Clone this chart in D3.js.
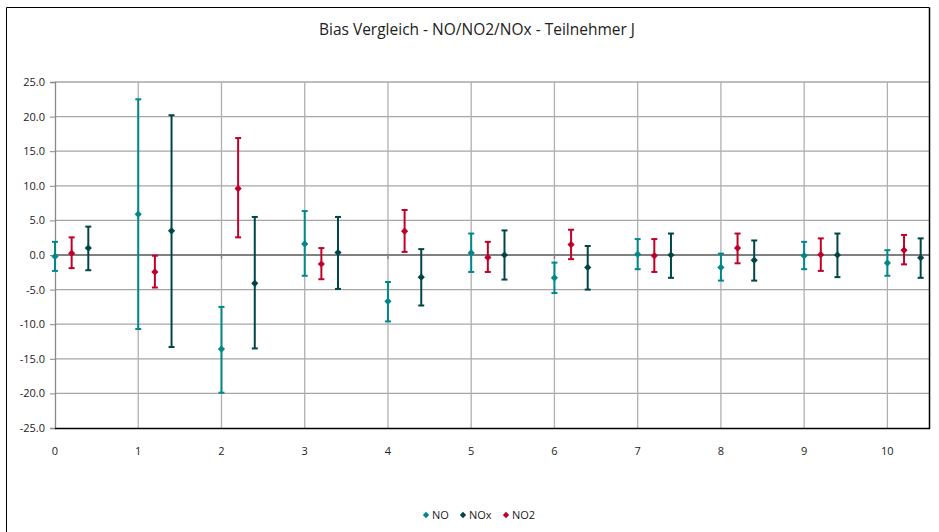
<!DOCTYPE html>
<html lang="de">
<head>
<meta charset="utf-8">
<script src="https://d3js.org/d3.v7.min.js"></script>
<style>
  body { margin: 0; background: #fff; }
  text { font-family: "Open Sans", "Liberation Sans", sans-serif; fill: #222; }
</style>
</head>
<body>
<div id="chart"></div>
<script>
// samples (x positions), each series is shifted a bit to the right
var samples = [0, 1, 2, 3, 4, 5, 6, 7, 8, 9, 10];
var yTicks = [-25, -20, -15, -10, -5, 0, 5, 10, 15, 20, 25];

// NO
var noBias = [-0.2, 5.9, -13.6, 1.6, -6.7, 0.3, -3.3, 0.1, -1.8, -0.1, -1.15];
var noHigh = [1.9, 22.5, -7.5, 6.35, -3.9, 3.1, -1.1, 2.3, 0.2, 1.9, 0.7];
var noLow  = [-2.3, -10.7, -19.9, -3.0, -9.6, -2.45, -5.5, -2.05, -3.7, -2.05, -3.0];
// NO2
var no2Bias = [0.25, -2.45, 9.6, -1.3, 3.45, -0.35, 1.5, -0.1, 1.0, 0.05, 0.7];
var no2High = [2.55, -0.1, 16.9, 1.0, 6.5, 1.9, 3.65, 2.3, 3.1, 2.4, 2.9];
var no2Low  = [-1.9, -4.7, 2.55, -3.5, 0.45, -2.45, -0.6, -2.45, -1.2, -2.3, -1.35];
// NOx
var noxBias = [1.0, 3.5, -4.1, 0.35, -3.2, 0.0, -1.8, 0.0, -0.75, 0.0, -0.4];
var noxHigh = [4.1, 20.2, 5.5, 5.5, 0.85, 3.55, 1.3, 3.1, 2.1, 3.1, 2.4];
var noxLow  = [-2.2, -13.3, -13.5, -4.9, -7.3, -3.55, -5.0, -3.3, -3.7, -3.2, -3.3];

var series = [
  {name: "NO",   color: "#00878a", offset: 0.0, bias: noBias,  hi: noHigh,  lo: noLow},
  {name: "NO2",  color: "#c0002a", offset: 0.2, bias: no2Bias, hi: no2High, lo: no2Low},
  {name: "NOx",  color: "#004646", offset: 0.4, bias: noxBias, hi: noxHigh, lo: noxLow}
];
var legendOrder = ["NO", "NOx", "NO2"];

var width = 939, height = 532;
var svg = d3.select("#chart").append("svg")
  .attr("width", width).attr("height", height);

var x = d3.scaleLinear().domain([0, 10.5]).range([55, 929]);
var y = d3.scaleLinear().domain([-25, 25]).range([428, 82]);

// outer chart border (cut off at the bottom)
svg.append("path")
  .attr("d", "M6.5,532 V7.5 H929.5")
  .attr("fill", "none").attr("stroke", "#000").attr("stroke-width", 1);

svg.append("text")
  .attr("x", 477).attr("y", 35)
  .attr("text-anchor", "middle")
  .style("font-size", "15.5px")
  .text("Bias Vergleich - NO/NO2/NOx - Teilnehmer J");

// grid
svg.append("g").selectAll("line")
  .data(yTicks.filter(d => d !== 0 && d !== -25)).enter().append("line")
  .attr("x1", x(0)).attr("x2", x(10.5))
  .attr("y1", d => y(d)).attr("y2", d => y(d))
  .attr("stroke", "#a6a6a6").attr("stroke-width", 1.3);

svg.append("g").selectAll("line")
  .data(samples.filter(d => d > 0)).enter().append("line")
  .attr("x1", d => x(d)).attr("x2", d => x(d))
  .attr("y1", y(25)).attr("y2", y(-25))
  .attr("stroke", "#b0b0b0").attr("stroke-width", 1.3);

// y axis
var yAxis = d3.axisLeft(y).tickValues(yTicks).tickSize(5).tickPadding(5)
  .tickFormat(d3.format(".1f"));
var ya = svg.append("g").attr("transform", `translate(${x(0)},0)`).call(yAxis);
ya.select(".domain").attr("stroke", "#888").attr("stroke-width", 1.3);
ya.selectAll(".tick line").attr("stroke", "#888");
ya.selectAll(".tick text").style("font-size", "11px").attr("fill", "#222")
  .text(d => d3.format(".1f")(d).replace("−", "-"));

// zero line with x ticks
svg.append("line")
  .attr("x1", x(0)).attr("x2", x(10.5))
  .attr("y1", y(0)).attr("y2", y(0))
  .attr("stroke", "#808080").attr("stroke-width", 2);
svg.append("g").selectAll("line")
  .data(samples).enter().append("line")
  .attr("x1", d => x(d)).attr("x2", d => x(d))
  .attr("y1", y(0)).attr("y2", y(0) + 4)
  .attr("stroke", "#808080").attr("stroke-width", 1.3);

// bottom and right plot border
svg.append("path")
  .attr("d", `M${x(0)},${y(-25) + 0.5} H${x(10.5) + 0.5} V7.5`)
  .attr("fill", "none").attr("stroke", "#000").attr("stroke-width", 1.5);

// x tick labels
svg.append("g").selectAll("text")
  .data(samples).enter().append("text")
  .attr("x", d => x(d)).attr("y", 455)
  .attr("text-anchor", "middle")
  .style("font-size", "11px")
  .text(d => d);

// error bars, markers are squares turned by 45 degrees
var marker = d3.symbol().type(d3.symbolSquare).size(26);
series.forEach(function(s) {
  var g = svg.append("g").attr("class", "series");
  var pts = samples.map((c, i) => ({x: c + s.offset, v: s.bias[i], hi: s.hi[i], lo: s.lo[i]}));
  g.selectAll(".bar").data(pts).enter().append("line")
    .attr("x1", d => x(d.x)).attr("x2", d => x(d.x))
    .attr("y1", d => y(d.hi)).attr("y2", d => y(d.lo))
    .attr("stroke", s.color).attr("stroke-width", 2);
  g.selectAll(".capT").data(pts).enter().append("line")
    .attr("x1", d => x(d.x) - 3).attr("x2", d => x(d.x) + 3)
    .attr("y1", d => y(d.hi)).attr("y2", d => y(d.hi))
    .attr("stroke", s.color).attr("stroke-width", 2);
  g.selectAll(".capB").data(pts).enter().append("line")
    .attr("x1", d => x(d.x) - 3).attr("x2", d => x(d.x) + 3)
    .attr("y1", d => y(d.lo)).attr("y2", d => y(d.lo))
    .attr("stroke", s.color).attr("stroke-width", 2);
  g.selectAll("path").data(pts).enter().append("path")
    .attr("d", marker)
    .attr("transform", d => `translate(${x(d.x)},${y(d.v)}) rotate(45)`)
    .attr("fill", s.color);
});

// legend
var lx = [426, 463, 506];
var leg = svg.append("g").selectAll("g")
  .data(legendOrder).enter().append("g")
  .attr("transform", (d, i) => `translate(${lx[i]},515)`);
leg.append("path")
  .attr("d", d3.symbol().type(d3.symbolSquare).size(20))
  .attr("transform", "rotate(45)")
  .attr("fill", d => series.find(s => s.name === d).color);
leg.append("text")
  .attr("x", 6).attr("y", 4)
  .style("font-size", "11px")
  .text(d => d);
</script>
</body>
</html>
